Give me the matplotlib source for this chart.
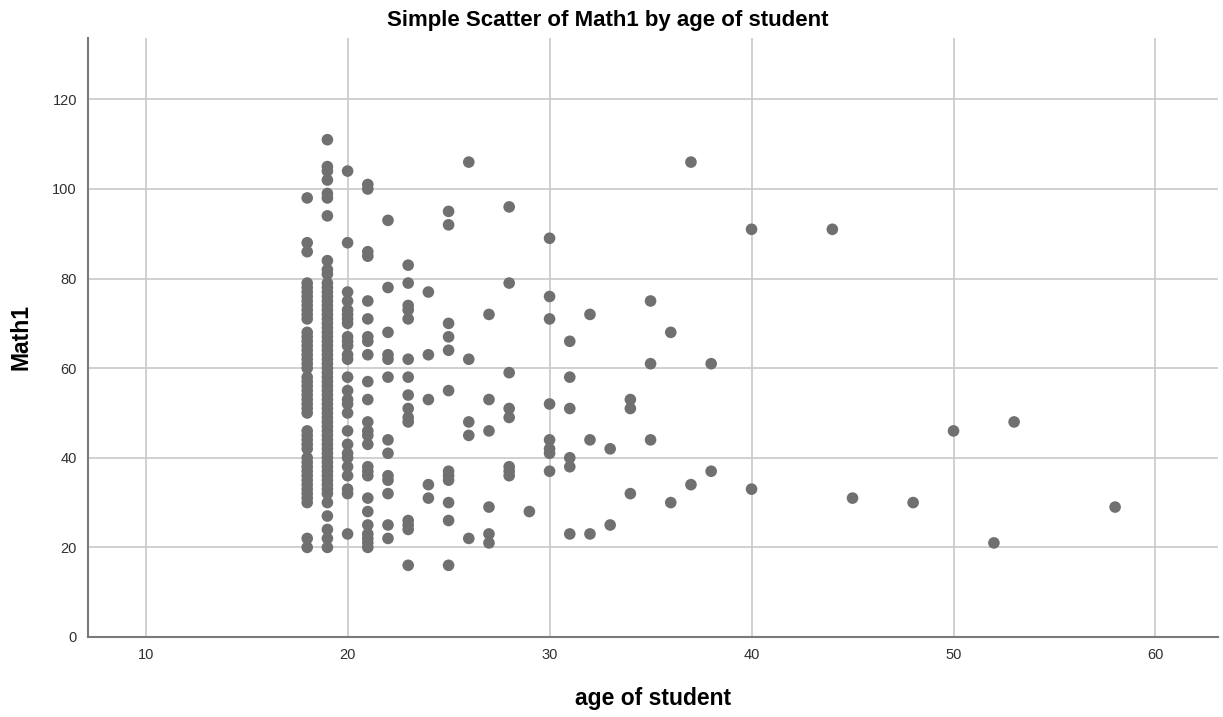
import numpy as np
import matplotlib.pyplot as plt

plt.rcParams['font.family'] = ['Liberation Sans', 'DejaVu Sans']

# Math1 scores grouped by student age
math1_by_age = {
    18: [98, 88, 86, 79, 78, 77, 76, 75, 74, 73, 72, 71, 68, 67, 66, 65, 64, 63,
         62, 61, 60, 58, 57, 56, 55, 54, 53, 52, 51, 50, 46, 45, 44, 43, 42,
         40, 39, 38, 37, 36, 35, 34, 33, 32, 31, 30, 22, 20],
    19: [111, 105, 104, 102, 99, 98, 94, 84, 82, 81, 79, 78, 77, 76, 75, 74, 73,
         72, 71, 70, 69, 68, 67, 66, 65, 64, 63, 62, 61, 60, 59, 58, 57, 56, 55,
         54, 53, 52, 51, 50, 49, 48, 47, 46, 45, 44, 43, 42, 41, 40, 39, 38, 37,
         36, 35, 34, 33, 32, 30, 27, 24, 22, 20],
    20: [104, 88, 77, 75, 73, 72, 71, 70, 67, 66, 65, 63, 62, 58, 55, 53, 52, 50,
         46, 43, 41, 40, 38, 36, 33, 32, 23],
    21: [101, 100, 86, 85, 75, 71, 67, 66, 63, 57, 53, 48, 46, 45, 43, 38, 37, 36,
         31, 28, 25, 23, 22, 21, 20],
    22: [93, 78, 68, 63, 62, 58, 44, 41, 36, 35, 32, 25, 22],
    23: [83, 79, 74, 73, 71, 62, 58, 54, 51, 49, 48, 26, 25, 24, 16],
    24: [77, 63, 53, 34, 31],
    25: [95, 92, 70, 67, 64, 55, 37, 36, 35, 30, 26, 16],
    26: [106, 62, 48, 45, 22],
    27: [72, 53, 46, 29, 23, 21],
    28: [96, 79, 59, 51, 49, 38, 37, 36],
    29: [28],
    30: [89, 76, 71, 52, 44, 42, 41, 37],
    31: [66, 58, 51, 40, 38, 23],
    32: [72, 44, 23],
    33: [42, 25],
    34: [53, 51, 32],
    35: [75, 61, 44],
    36: [68, 30],
    37: [106, 34],
    38: [61, 37],
    40: [91, 33],
    44: [91],
    45: [31],
    48: [30],
    50: [46],
    52: [21],
    53: [48],
    58: [29],
}

ages = np.concatenate([[a] * len(v) for a, v in math1_by_age.items()])
math1 = np.concatenate([v for v in math1_by_age.values()])

fig = plt.figure(figsize=(12.23, 7.17), dpi=100)
ax = fig.add_axes([0.072, 0.1116, 0.924, 0.8354])

ax.scatter(ages, math1, s=70, color='#707070', edgecolors='none', zorder=3)

ax.set_xlim(7.15, 63.1)
ax.set_ylim(0, 133.7)
ax.set_xticks(range(10, 61, 10))
ax.set_yticks(range(0, 121, 20))
ax.grid(True, color='#c8c8c8', linewidth=1.2, zorder=0)
ax.set_axisbelow(True)

for side in ['top', 'right']:
    ax.spines[side].set_visible(False)
for side in ['left', 'bottom']:
    ax.spines[side].set_color('#7a7a7a')
    ax.spines[side].set_linewidth(1.5)
ax.tick_params(length=0, labelsize=10.5, labelcolor='#303030', pad=8)

# title is centred on the whole figure, not the axes
fig.text(0.497, 0.972, 'Simple Scatter of Math1 by age of student',
         fontsize=16, fontweight='bold', ha='center', va='center')
ax.set_xlabel('age of student', fontsize=16.5, fontweight='bold', labelpad=18)
ax.set_ylabel('Math1', fontsize=16.5, fontweight='bold', labelpad=14)

fig.savefig('out.png', dpi=100)
